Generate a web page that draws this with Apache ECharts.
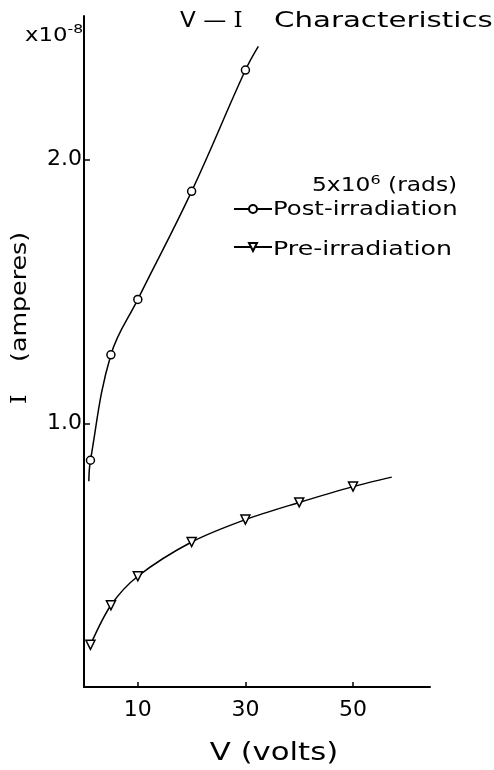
<!DOCTYPE html>
<html>
<head>
<meta charset="utf-8">
<title>V-I Characteristics</title>
<script src="https://cdn.jsdelivr.net/npm/echarts@6/dist/echarts.min.js"></script>
<style>
  html, body { margin: 0; padding: 0; background: #fff; }
  #chart { width: 494px; height: 770px; }
</style>
</head>
<body>
<div id="chart"></div>
<script>
// values (V in volts, I in units of 1e-8 A)
var postV = [1.2, 5, 10, 20, 30]
var postI = [0.86, 1.26, 1.47, 1.88, 2.34]
var postStart = [0.9, 0.78]
var postEnd = [32.4, 2.43]

var preV = [1.2, 5, 10, 20, 30, 40, 50]
var preI = [0.16, 0.31, 0.42, 0.55, 0.635, 0.70, 0.76]
var preEnd = [57.2, 0.796]

var xTicks = [10, 30, 50]
var yTicks = [1, 2]

var FONT = 'DejaVu Sans'
var SERIF = 'DejaVu Serif'

function points(xs, ys) {
  return xs.map(function (x, i) { return [x, ys[i]] })
}
// curve ends are drawn as line only, without marker
function bare(p) {
  return { value: p, symbol: 'none' }
}
// the scan's lettering is wider than any installed font, so stretch it
function label(text, x, y, size, stretch, extra) {
  var el = {
    type: 'text',
    x: x,
    y: y,
    scaleX: stretch,
    style: {
      text: text,
      fill: '#000',
      font: size + 'px ' + FONT,
      align: 'left',
      verticalAlign: 'middle'
    }
  }
  if (extra) {
    Object.keys(extra).forEach(function (k) { el.style[k] = extra[k] })
  }
  return el
}

var chart = echarts.init(document.getElementById('chart'))

chart.setOption({
  backgroundColor: '#fff',
  animation: false,
  grid: {
    left: 84,
    right: 64,
    top: 16,
    bottom: 83
  },
  xAxis: {
    type: 'value',
    min: 0,
    max: 64.3,
    axisLine: { lineStyle: { color: '#000', width: 2 } },
    axisTick: {
      inside: true,
      length: 5,
      customValues: xTicks,
      lineStyle: { color: '#000', width: 1.5 }
    },
    axisLabel: {
      customValues: xTicks,
      margin: 12,
      color: '#000',
      fontFamily: FONT,
      fontSize: 22
    },
    splitLine: { show: false }
  },
  yAxis: {
    type: 'value',
    min: 0,
    max: 2.545,
    axisLine: { show: true, lineStyle: { color: '#000', width: 2 } },
    axisTick: {
      show: true,
      inside: true,
      length: 6,
      customValues: yTicks,
      lineStyle: { color: '#000', width: 1.5 }
    },
    axisLabel: {
      customValues: yTicks,
      margin: 2,
      color: '#000',
      fontFamily: FONT,
      fontSize: 22,
      formatter: function (v) { return v.toFixed(1) }
    },
    splitLine: { show: false }
  },
  // legend draws the -o- / -v- keys; the names are stretched graphic text below
  legend: {
    orient: 'vertical',
    left: 233,
    top: 199,
    padding: 0,
    itemWidth: 38,
    itemHeight: 10,
    itemGap: 18,
    formatter: function () { return ' ' },
    textStyle: { fontFamily: FONT, fontSize: 20 },
    data: ['Post-irradiation', 'Pre-irradiation']
  },
  series: [
    {
      name: 'Post-irradiation',
      type: 'line',
      smooth: 0.4,
      symbol: 'circle',
      symbolSize: 8,
      itemStyle: { color: '#fff', borderColor: '#000', borderWidth: 1.5 },
      lineStyle: { color: '#000', width: 1.5 },
      data: [bare(postStart)].concat(points(postV, postI), [bare(postEnd)])
    },
    {
      name: 'Pre-irradiation',
      type: 'line',
      smooth: 0.3,
      symbol: 'triangle',
      symbolRotate: 180,
      symbolSize: 9,
      itemStyle: { color: '#fff', borderColor: '#000', borderWidth: 1.5 },
      lineStyle: { color: '#000', width: 1.5 },
      data: points(preV, preI).concat([bare(preEnd)])
    }
  ],
  graphic: [
    label('V — {s|I}', 180, 21, 22, 1.05, { rich: { s: { fontFamily: SERIF, fontSize: 22 } } }),
    label('Characteristics', 274, 21, 22, 1.33),
    label('x10{sup|-8}', 25, 36, 19, 1.2, {
      rich: { sup: { fontFamily: FONT, fontSize: 13, padding: [0, 0, 12, 0] } }
    }),
    label('5x10{sup|6} (rads)', 312, 186, 19, 1.23, {
      rich: { sup: { fontFamily: FONT, fontSize: 13, padding: [0, 0, 10, 0] } }
    }),
    label('Post-irradiation', 273, 210, 19, 1.28),
    label('Pre-irradiation', 273, 250, 19, 1.33),
    {
      type: 'text',
      x: 20,
      y: 318,
      rotation: Math.PI / 2,
      scaleX: 1.15,
      style: {
        text: '{s|I}    (amperes)',
        fill: '#000',
        font: '22px ' + FONT,
        align: 'center',
        verticalAlign: 'middle',
        rich: { s: { fontFamily: SERIF, fontSize: 22 } }
      }
    },
    {
      type: 'text',
      x: 274,
      y: 754,
      scaleX: 1.28,
      style: {
        text: 'V (volts)',
        fill: '#000',
        font: '24px ' + FONT,
        align: 'center',
        verticalAlign: 'middle'
      }
    }
  ]
})
</script>
</body>
</html>
